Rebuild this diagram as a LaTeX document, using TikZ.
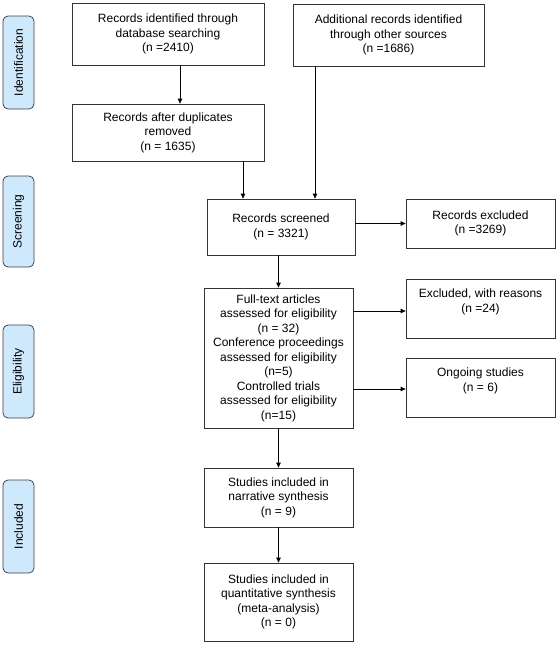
\documentclass[tikz,border=0pt]{standalone}
\usepackage{fontspec}
\setmainfont{Liberation Sans}
\usepackage{tikz}
\usetikzlibrary{arrows.meta}

\definecolor{tabblue}{RGB}{206,232,252}

\begin{document}
\begin{tikzpicture}[x=1pt, y=-1pt,
        box/.style={draw=black!80, line width=0.75pt, align=center, inner sep=2pt,
            font=\fontsize{12}{14.5}\selectfont},
        tab/.style={draw=black!75, fill=tabblue, line width=0.75pt, rounded corners=5pt,
            rotate=90, minimum height=31pt, inner sep=0pt,
            font=\fontsize{12}{14.5}\selectfont},
        arr/.style={-{Triangle[length=5pt, width=4.5pt]}, line width=0.75pt}]
        \useasboundingbox (0, 0) rectangle (558, 645);

        \node[tab, minimum width=93pt] (ident) at (18.5, 62.5) {Identification};
        \node[tab, minimum width=91pt] (screen) at (18.5, 221.5) {Screening};
        \node[tab, minimum width=93pt] (elig) at (18.5, 371.5) {Eligibility};
        \node[tab, minimum width=93pt] (incl) at (18.5, 526.5) {Included};

        \node[box, minimum width=192pt, minimum height=62pt] (dbase) at (168, 34) {Records identified through\\database searching\\(n =2410)};
        \node[box, minimum width=191pt, minimum height=62pt] (other) at (388.5, 35) {Additional records identified\\through other sources\\(n =1686)};
        \node[box, minimum width=192pt, minimum height=57pt] (dup) at (168, 132.5) {Records after duplicates\\removed\\(n = 1635)};
        \node[box, minimum width=148pt, minimum height=56pt] (scr) at (281, 227) {Records screened\\(n = 3321)};
        \node[box, minimum width=149pt, minimum height=49pt] (excl) at (480.5, 223.5) {Records excluded\\(n =3269)};
        \node[box, minimum width=149pt, minimum height=140pt] (full) at (278.5, 358) {Full-text articles\\assessed for eligibility\\(n = 32)\\Conference proceedings\\assessed for eligibility\\(n=5)\\Controlled trials\\assessed for eligibility\\(n=15)};
        \node[box, minimum width=149pt, minimum height=59pt, text depth=16pt] (reas) at (480.5, 308.5) {Excluded, with reasons\\(n =24)};
        \node[box, minimum width=149pt, minimum height=59pt, text depth=16pt] (ongo) at (480.5, 387.5) {Ongoing studies\\(n = 6)};
        \node[box, minimum width=149pt, minimum height=59pt] (narr) at (278.5, 497.5) {Studies included in\\narrative synthesis\\(n = 9)};
        \node[box, minimum width=149pt, minimum height=78pt] (quant) at (278.5, 602) {Studies included in\\quantitative synthesis\\(meta-analysis)\\(n = 0)};

        \draw[arr] ([xshift=12pt]dbase.south) -- ([xshift=12pt]dup.north);
        \draw[arr] ([xshift=75pt]dup.south) -- ([xshift=75pt]dup.south |- scr.north);
        \draw[arr] ([xshift=-73.5pt]other.south) -- ([xshift=-73.5pt]other.south |- scr.north);
        \draw[arr] (excl.west -| scr.east) -- (excl.west);
        \draw[arr] (full.north |- scr.south) -- (full.north);
        \draw[arr] ([yshift=-2.5pt]reas.west -| full.east) -- ([yshift=-2.5pt]reas.west);
        \draw[arr] ([yshift=-1.5pt]ongo.west -| full.east) -- ([yshift=-1.5pt]ongo.west);
        \draw[arr] (full) -- (narr);
        \draw[arr] (narr) -- (quant);

    \end{tikzpicture}
\end{document}
